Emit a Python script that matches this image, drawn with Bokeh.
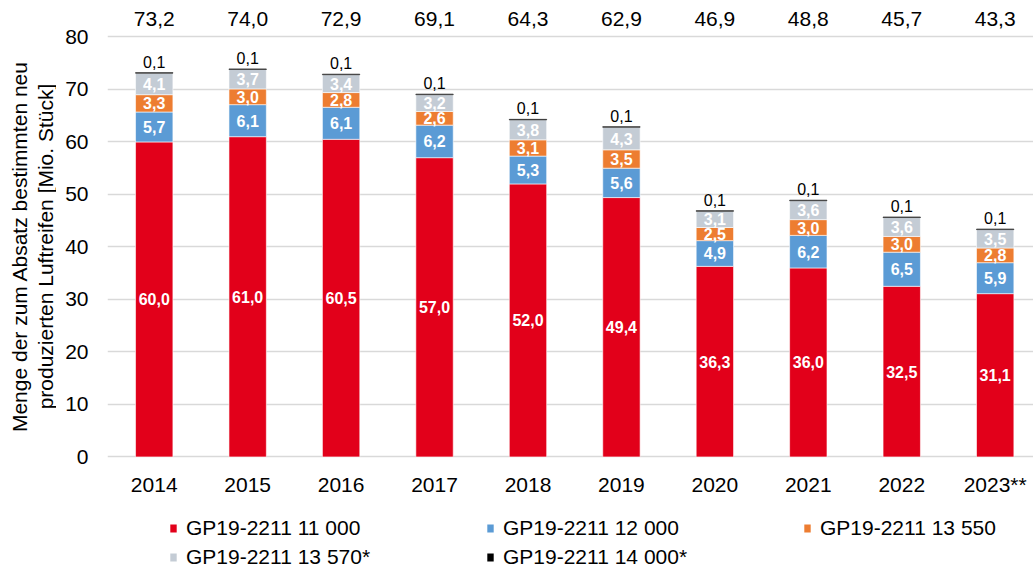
import math
from bokeh.plotting import figure
from bokeh.layouts import column, row
from bokeh.models import ColumnDataSource, Range1d, FixedTicker, Legend, LegendItem
from bokeh.embed import file_html
from bokeh.resources import INLINE
from bokeh.core.properties import value

# ---- data ----
years = ["2014", "2015", "2016", "2017", "2018", "2019", "2020", "2021", "2022", "2023**"]
s_11000 = [60.0, 61.0, 60.5, 57.0, 52.0, 49.4, 36.3, 36.0, 32.5, 31.1]
s_12000 = [5.7, 6.1, 6.1, 6.2, 5.3, 5.6, 4.9, 6.2, 6.5, 5.9]
s_13550 = [3.3, 3.0, 2.8, 2.6, 3.1, 3.5, 2.5, 3.0, 3.0, 2.8]
s_13570 = [4.1, 3.7, 3.4, 3.2, 3.8, 4.3, 3.1, 3.6, 3.6, 3.5]
s_14000 = [0.1, 0.1, 0.1, 0.1, 0.1, 0.1, 0.1, 0.1, 0.1, 0.1]
totals = [73.2, 74.0, 72.9, 69.1, 64.3, 62.9, 46.9, 48.8, 45.7, 43.3]
series_names = ["GP19-2211 11 000", "GP19-2211 12 000", "GP19-2211 13 550",
                "GP19-2211 13 570*", "GP19-2211 14 000*"]
colors = ["#E2001A", "#5B9BD5", "#ED7D31", "#C4CCD5", "#000000"]
y_title = "Menge der zum Absatz bestimmten neu\nproduzierten Luftreifen [Mio. Stück]"

FONT = "Liberation Sans"
LABEL_W = 56
LEFT = 51
FRAME_W = 926
FRAME_H = 458
PX_PER_UNIT = 5.25
Y0 = -0.3
TOTAL_H = 568


def fmt(v):
    return f"{v:.1f}".replace(".", ",")


def bare(fig):
    fig.outline_line_color = None
    fig.axis.visible = False
    fig.grid.grid_line_color = None
    fig.background_fill_color = "white"
    fig.border_fill_color = "white"


series = [s_11000, s_12000, s_13550, s_13570, s_14000]
xs = list(range(len(years)))
x_range = Range1d(-0.5, 9.41)

# ---- y-axis title strip ----
lab = figure(frame_width=LABEL_W, frame_height=TOTAL_H, output_backend="svg", toolbar_location=None,
             x_range=Range1d(0, LABEL_W), y_range=Range1d(0, TOTAL_H),
             min_border=0)
bare(lab)
lab.text(x=[32], y=[TOTAL_H - 246], text=[y_title], angle=math.pi / 2,
         text_align="center", text_baseline="middle", text_color="black",
         text_font=value(FONT), text_font_size="21px", text_line_height=1.15)

# ---- main chart ----
p = figure(frame_width=FRAME_W, frame_height=FRAME_H, output_backend="svg", toolbar_location=None,
           x_range=x_range, y_range=Range1d(Y0, Y0 + FRAME_H / PX_PER_UNIT),
           min_border_left=LEFT, min_border_right=0, min_border_top=0, min_border_bottom=45)
p.outline_line_color = None
p.background_fill_color = "white"
p.border_fill_color = "white"

p.xaxis.ticker = FixedTicker(ticks=xs)
p.xaxis.major_label_overrides = {i: y for i, y in enumerate(years)}
p.yaxis.ticker = FixedTicker(ticks=list(range(0, 81, 10)))
for ax in (p.xaxis[0], p.yaxis[0]):
    ax.axis_line_color = None
    ax.major_tick_line_color = None
    ax.minor_tick_line_color = None
    ax.major_tick_out = 0
    ax.major_tick_in = 0
    ax.minor_tick_out = 0
    ax.major_label_text_font = FONT
    ax.major_label_text_font_size = "21px"
    ax.major_label_text_color = "#000000"
p.xaxis.major_label_standoff = 14
p.yaxis.major_label_standoff = 19

p.xgrid.grid_line_color = None
p.ygrid.grid_line_color = "#D9D9D9"
p.ygrid.grid_line_width = 1.5

bottom = [0.0] * len(xs)
seg_x, seg_y, seg_t = [], [], []
for k, (vals, col) in enumerate(zip(series, colors)):
    stack_top = [b + v for b, v in zip(bottom, vals)]
    src = ColumnDataSource(dict(x=xs, bottom=bottom, top=stack_top))
    if k < 4:
        p.vbar(x="x", bottom="bottom", top="top", width=0.4, source=src,
               fill_color=col, line_color="white", line_width=0.6)
        for i in xs:
            seg_x.append(i)
            seg_y.append(bottom[i] + vals[i] / 2)
            seg_t.append(fmt(vals[i]))
    else:
        p.vbar(x="x", bottom="bottom", top="top", width=0.4, source=src,
               fill_color=col, line_color="#404040", line_width=0.8)
    bottom = stack_top

lab_src = ColumnDataSource(dict(x=seg_x, y=seg_y, t=seg_t))
p.text(x="x", y="y", text="t", source=lab_src, text_align="center", text_baseline="middle",
       text_color="white", text_font=value(FONT), text_font_size="16px", text_font_style="bold")

small_src = ColumnDataSource(dict(x=xs, y=bottom, t=[fmt(v) for v in s_14000]))
p.text(x="x", y="y", text="t", source=small_src, text_align="center", text_baseline="middle",
       y_offset=-11, text_color="black", text_font=value(FONT), text_font_size="16px")

# totals row above the 80 line
total_y = 83.5
tot_src = ColumnDataSource(dict(x=xs, y=[total_y] * len(xs), t=[fmt(v) for v in totals]))
p.text(x="x", y="y", text="t", source=tot_src, text_align="center", text_baseline="middle",
       text_color="black", text_font=value(FONT), text_font_size="21px")

# ---- legend strip ----
leg = figure(frame_width=FRAME_W, frame_height=65, output_backend="svg", toolbar_location=None,
             x_range=Range1d(0, 1), y_range=Range1d(0, 1),
             min_border_left=LEFT, min_border_right=0, min_border_top=0, min_border_bottom=0)
bare(leg)
items = []
for name, col in zip(series_names, colors):
    r = leg.vbar(x=[0.5], bottom=[0.2], top=[0.8], width=0.1, fill_color=col, line_color=None,
                 visible=False)
    items.append(LegendItem(label=name, renderers=[r]))
legend = Legend(items=items, orientation="horizontal", ncols=3, location=(62 + LABEL_W - LABEL_W, -1),
                glyph_width=8, glyph_height=10, label_standoff=9, label_width=295,
                label_height=24, spacing=5, padding=0, margin=0,
                border_line_color=None, background_fill_alpha=0, inactive_fill_alpha=0,
                label_text_font=FONT, label_text_font_size="21px", label_text_color="black")
leg.add_layout(legend, "center")

layout = row(lab, column(p, leg, spacing=0), spacing=0)
open("out.html", "w").write(file_html(layout, INLINE))
